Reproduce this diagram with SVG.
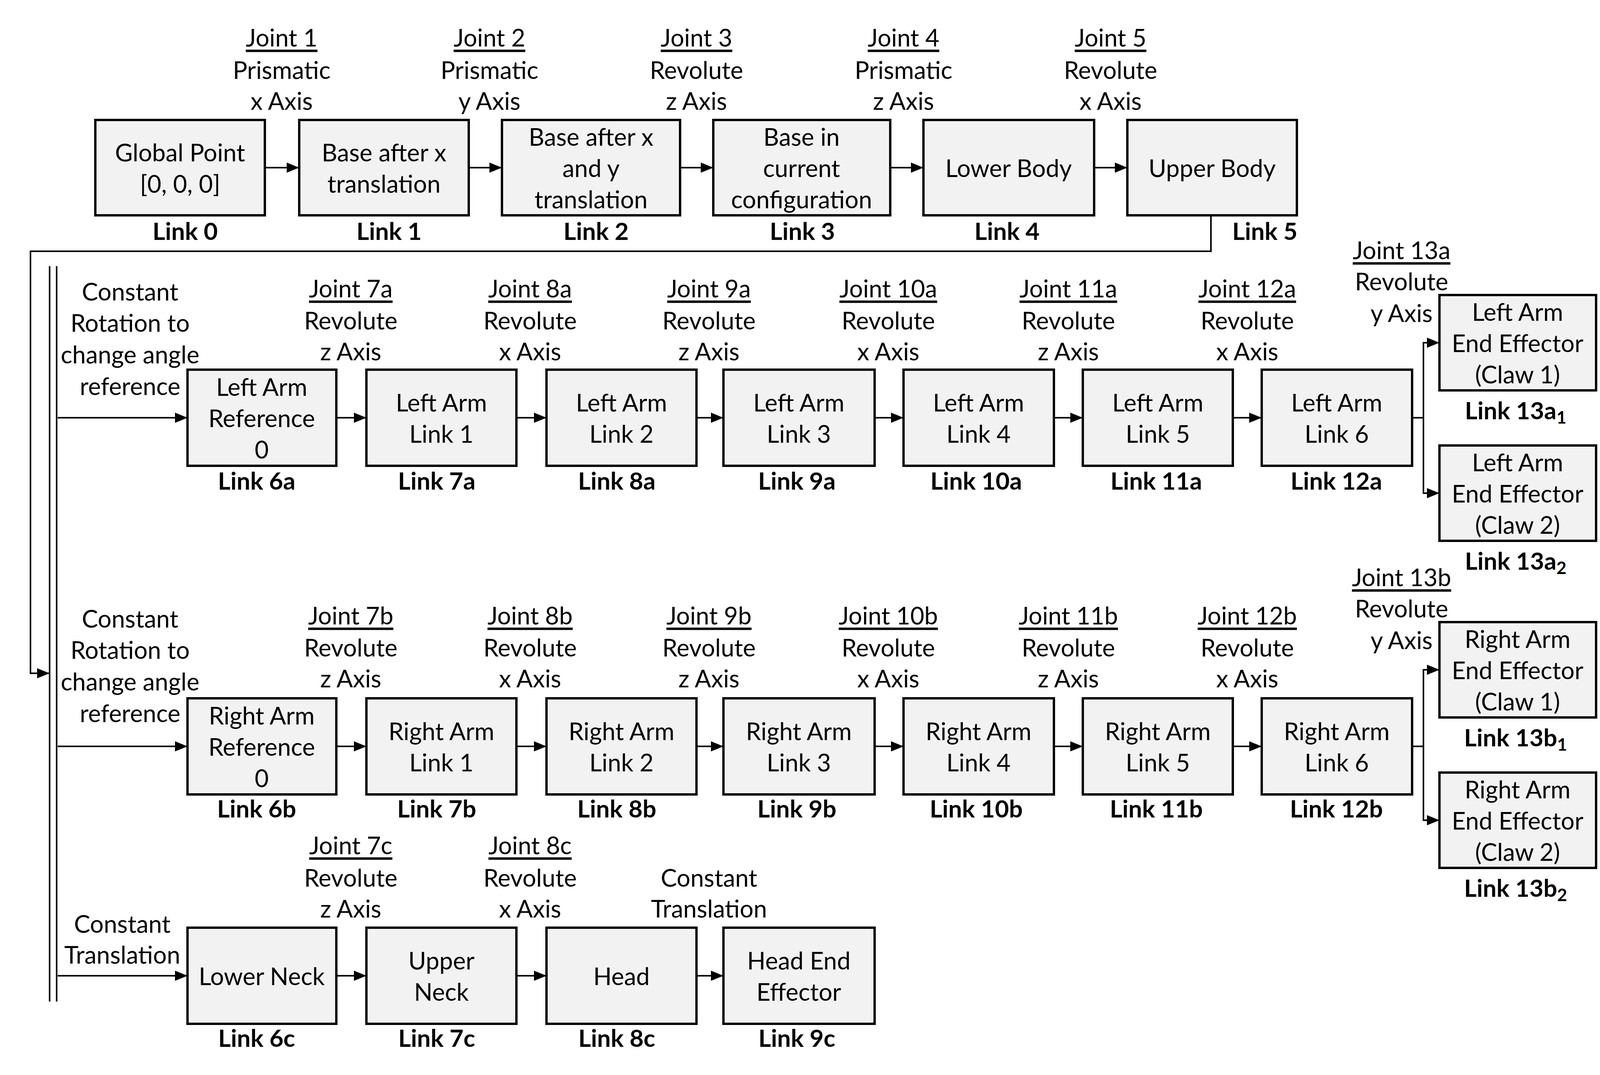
<svg xmlns="http://www.w3.org/2000/svg" width="4159" height="2751" viewBox="0 0 4159 2751">
<defs>
<style>
text{font-family:Lato,"Open Sans","Liberation Sans",sans-serif;font-size:62px;fill:#000;text-anchor:middle;dominant-baseline:central}
.b{font-weight:bold}
.u{text-decoration:underline}
rect{fill:#f2f2f2;stroke:#000;stroke-width:6}
.c path,.c line{stroke:#000;stroke-width:4;fill:none}
</style>
<marker id="m" markerWidth="32" markerHeight="26" refX="32" refY="13" orient="auto" markerUnits="userSpaceOnUse" viewBox="0 0 32 26"><path d="M0,0 L32,13 L0,26 Z" fill="#000"/></marker>
</defs>
<rect x="0" y="0" width="4159" height="2751" style="fill:#fff;stroke:none"/>
<g class="c" id="connectors">
<path d="M678,429H766" marker-end="url(#m)"/>
<path d="M1200,429H1285" marker-end="url(#m)"/>
<path d="M1741,429H1826" marker-end="url(#m)"/>
<path d="M2279,429H2364" marker-end="url(#m)"/>
<path d="M2801,429H2886" marker-end="url(#m)"/>
<path d="M3100,553V643H78V1723H127" marker-end="url(#m)"/>
<line x1="127" y1="681" x2="127" y2="2563"/>
<line x1="145" y1="681" x2="145" y2="2563"/>
<path d="M148,1069H480" marker-end="url(#m)"/>
<path d="M148,1910H480" marker-end="url(#m)"/>
<path d="M148,2497H480" marker-end="url(#m)"/>
<path d="M861,1069H938" marker-end="url(#m)"/>
<path d="M1322,1069H1399" marker-end="url(#m)"/>
<path d="M1783,1069H1852" marker-end="url(#m)"/>
<path d="M2239,1069H2313" marker-end="url(#m)"/>
<path d="M2698,1069H2772" marker-end="url(#m)"/>
<path d="M3156,1069H3230" marker-end="url(#m)"/>
<path d="M861,1910H938" marker-end="url(#m)"/>
<path d="M1322,1910H1399" marker-end="url(#m)"/>
<path d="M1783,1910H1852" marker-end="url(#m)"/>
<path d="M2239,1910H2313" marker-end="url(#m)"/>
<path d="M2698,1910H2772" marker-end="url(#m)"/>
<path d="M3156,1910H3230" marker-end="url(#m)"/>
<path d="M861,2497H938" marker-end="url(#m)"/>
<path d="M1322,2497H1399" marker-end="url(#m)"/>
<path d="M1783,2497H1852" marker-end="url(#m)"/>
<path d="M3615,1069H3644"/>
<path d="M3644,1262V877H3685" marker-end="url(#m)"/>
<path d="M3644,1069V1262H3685" marker-end="url(#m)"/>
<path d="M3615,1910H3644"/>
<path d="M3644,2099V1714H3685" marker-end="url(#m)"/>
<path d="M3644,1910V2099H3685" marker-end="url(#m)"/>
</g>
<g id="labels">
<text x="721" y="95" class="u">Joint 1</text><text x="721" y="178">Prismatic</text><text x="721" y="257">x Axis</text>
<text x="1253" y="95" class="u">Joint 2</text><text x="1253" y="178">Prismatic</text><text x="1253" y="257">y Axis</text>
<text x="1783" y="95" class="u">Joint 3</text><text x="1783" y="178">Revolute</text><text x="1783" y="257">z Axis</text>
<text x="2313" y="95" class="u">Joint 4</text><text x="2313" y="178">Prismatic</text><text x="2313" y="257">z Axis</text>
<text x="2843" y="95" class="u">Joint 5</text><text x="2843" y="178">Revolute</text><text x="2843" y="257">x Axis</text>
<text x="333" y="745">Constant</text><text x="333" y="825">Rotation to</text><text x="333" y="906">change angle</text><text x="333" y="987">reference</text>
<text x="333" y="1582">Constant</text><text x="333" y="1662">Rotation to</text><text x="333" y="1743">change angle</text><text x="333" y="1824">reference</text>
<text x="313" y="2363">Constant</text><text x="313" y="2442">Translation</text>
<text x="898" y="737" class="u">Joint 7a</text><text x="898" y="819">Revolute</text><text x="898" y="898">z Axis</text>
<text x="1357" y="737" class="u">Joint 8a</text><text x="1357" y="819">Revolute</text><text x="1357" y="898">x Axis</text>
<text x="1815" y="737" class="u">Joint 9a</text><text x="1815" y="819">Revolute</text><text x="1815" y="898">z Axis</text>
<text x="2274" y="737" class="u">Joint 10a</text><text x="2274" y="819">Revolute</text><text x="2274" y="898">x Axis</text>
<text x="2735" y="737" class="u">Joint 11a</text><text x="2735" y="819">Revolute</text><text x="2735" y="898">z Axis</text>
<text x="3193" y="737" class="u">Joint 12a</text><text x="3193" y="819">Revolute</text><text x="3193" y="898">x Axis</text>
<text x="3588" y="639" class="u">Joint 13a</text><text x="3588" y="719">Revolute</text><text x="3588" y="800">y Axis</text>
<text x="898" y="1574" class="u">Joint 7b</text><text x="898" y="1656">Revolute</text><text x="898" y="1735">z Axis</text>
<text x="1357" y="1574" class="u">Joint 8b</text><text x="1357" y="1656">Revolute</text><text x="1357" y="1735">x Axis</text>
<text x="1815" y="1574" class="u">Joint 9b</text><text x="1815" y="1656">Revolute</text><text x="1815" y="1735">z Axis</text>
<text x="2274" y="1574" class="u">Joint 10b</text><text x="2274" y="1656">Revolute</text><text x="2274" y="1735">x Axis</text>
<text x="2735" y="1574" class="u">Joint 11b</text><text x="2735" y="1656">Revolute</text><text x="2735" y="1735">z Axis</text>
<text x="3193" y="1574" class="u">Joint 12b</text><text x="3193" y="1656">Revolute</text><text x="3193" y="1735">x Axis</text>
<text x="3588" y="1476" class="u">Joint 13b</text><text x="3588" y="1556">Revolute</text><text x="3588" y="1637">y Axis</text>
<text x="898" y="2162" class="u">Joint 7c</text><text x="898" y="2245">Revolute</text><text x="898" y="2324">z Axis</text>
<text x="1357" y="2162" class="u">Joint 8c</text><text x="1357" y="2245">Revolute</text><text x="1357" y="2324">x Axis</text>
<text x="1815" y="2245">Constant</text><text x="1815" y="2324">Translation</text>
</g>
<g id="link0"><rect x="244" y="307" width="434" height="244"/><text x="461" y="389">Global Point</text><text x="461" y="469">[0, 0, 0]</text><text x="474" y="590" class="b">Link 0</text></g>
<g id="link1"><rect x="766" y="307" width="434" height="244"/><text x="983" y="389">Base after x</text><text x="983" y="469">translation</text><text x="996" y="590" class="b">Link 1</text></g>
<g id="link2"><rect x="1285" y="307" width="456" height="244"/><text x="1513" y="349">Base after x</text><text x="1513" y="429">and y</text><text x="1513" y="509">translation</text><text x="1526" y="590" class="b">Link 2</text></g>
<g id="link3"><rect x="1826" y="307" width="453" height="244"/><text x="2052" y="349">Base in</text><text x="2052" y="429">current</text><text x="2052" y="509">configuration</text><text x="2054" y="590" class="b">Link 3</text></g>
<g id="link4"><rect x="2364" y="307" width="437" height="244"/><text x="2582" y="429">Lower Body</text><text x="2578" y="590" class="b">Link 4</text></g>
<g id="link5"><rect x="2886" y="307" width="434" height="244"/><text x="3103" y="429">Upper Body</text><text x="3238" y="590" class="b">Link 5</text></g>

<g id="link6a"><rect x="480" y="946" width="381" height="246"/><text x="670" y="989">Left Arm</text><text x="670" y="1069">Reference</text><text x="670" y="1149">0</text><text x="657" y="1229" class="b">Link 6a</text></g>
<g id="link7a"><rect x="938" y="946" width="384" height="246"/><text x="1130" y="1029">Left Arm</text><text x="1130" y="1109">Link 1</text><text x="1118" y="1229" class="b">Link 7a</text></g>
<g id="link8a"><rect x="1399" y="946" width="384" height="246"/><text x="1591" y="1029">Left Arm</text><text x="1591" y="1109">Link 2</text><text x="1579" y="1229" class="b">Link 8a</text></g>
<g id="link9a"><rect x="1852" y="946" width="387" height="246"/><text x="2045" y="1029">Left Arm</text><text x="2045" y="1109">Link 3</text><text x="2040" y="1229" class="b">Link 9a</text></g>
<g id="link10a"><rect x="2313" y="946" width="385" height="246"/><text x="2505" y="1029">Left Arm</text><text x="2505" y="1109">Link 4</text><text x="2499" y="1229" class="b">Link 10a</text></g>
<g id="link11a"><rect x="2772" y="946" width="384" height="246"/><text x="2964" y="1029">Left Arm</text><text x="2964" y="1109">Link 5</text><text x="2960" y="1229" class="b">Link 11a</text></g>
<g id="link12a"><rect x="3230" y="946" width="385" height="246"/><text x="3422" y="1029">Left Arm</text><text x="3422" y="1109">Link 6</text><text x="3421" y="1229" class="b">Link 12a</text></g>
<g id="link13a1"><rect x="3685" y="755" width="401" height="244"/><text x="3885" y="797">Left Arm</text><text x="3885" y="877">End Effector</text><text x="3885" y="957">(Claw 1)</text><text x="3880" y="1049" class="b">Link 13a<tspan font-size="44" dy="18">1</tspan></text></g>
<g id="link13a2"><rect x="3685" y="1140" width="401" height="244"/><text x="3885" y="1182">Left Arm</text><text x="3885" y="1262">End Effector</text><text x="3885" y="1342">(Claw 2)</text><text x="3880" y="1434" class="b">Link 13a<tspan font-size="44" dy="18">2</tspan></text></g>

<g id="link6b"><rect x="480" y="1787" width="381" height="246"/><text x="670" y="1830">Right Arm</text><text x="670" y="1910">Reference</text><text x="670" y="1990">0</text><text x="657" y="2068" class="b">Link 6b</text></g>
<g id="link7b"><rect x="938" y="1787" width="384" height="246"/><text x="1130" y="1870">Right Arm</text><text x="1130" y="1950">Link 1</text><text x="1118" y="2068" class="b">Link 7b</text></g>
<g id="link8b"><rect x="1399" y="1787" width="384" height="246"/><text x="1591" y="1870">Right Arm</text><text x="1591" y="1950">Link 2</text><text x="1579" y="2068" class="b">Link 8b</text></g>
<g id="link9b"><rect x="1852" y="1787" width="387" height="246"/><text x="2045" y="1870">Right Arm</text><text x="2045" y="1950">Link 3</text><text x="2040" y="2068" class="b">Link 9b</text></g>
<g id="link10b"><rect x="2313" y="1787" width="385" height="246"/><text x="2505" y="1870">Right Arm</text><text x="2505" y="1950">Link 4</text><text x="2499" y="2068" class="b">Link 10b</text></g>
<g id="link11b"><rect x="2772" y="1787" width="384" height="246"/><text x="2964" y="1870">Right Arm</text><text x="2964" y="1950">Link 5</text><text x="2960" y="2068" class="b">Link 11b</text></g>
<g id="link12b"><rect x="3230" y="1787" width="385" height="246"/><text x="3422" y="1870">Right Arm</text><text x="3422" y="1950">Link 6</text><text x="3421" y="2068" class="b">Link 12b</text></g>
<g id="link13b1"><rect x="3685" y="1592" width="401" height="244"/><text x="3885" y="1634">Right Arm</text><text x="3885" y="1714">End Effector</text><text x="3885" y="1794">(Claw 1)</text><text x="3880" y="1886" class="b">Link 13b<tspan font-size="44" dy="18">1</tspan></text></g>
<g id="link13b2"><rect x="3685" y="1977" width="401" height="244"/><text x="3885" y="2019">Right Arm</text><text x="3885" y="2099">End Effector</text><text x="3885" y="2179">(Claw 2)</text><text x="3880" y="2271" class="b">Link 13b<tspan font-size="44" dy="18">2</tspan></text></g>

<g id="link6c"><rect x="480" y="2374" width="381" height="246"/><text x="670" y="2497">Lower Neck</text><text x="657" y="2655" class="b">Link 6c</text></g>
<g id="link7c"><rect x="938" y="2374" width="384" height="246"/><text x="1130" y="2457">Upper</text><text x="1130" y="2537">Neck</text><text x="1118" y="2655" class="b">Link 7c</text></g>
<g id="link8c"><rect x="1399" y="2374" width="384" height="246"/><text x="1591" y="2497">Head</text><text x="1579" y="2655" class="b">Link 8c</text></g>
<g id="link9c"><rect x="1852" y="2374" width="387" height="246"/><text x="2045" y="2457">Head End</text><text x="2045" y="2537">Effector</text><text x="2040" y="2655" class="b">Link 9c</text></g>
</svg>
